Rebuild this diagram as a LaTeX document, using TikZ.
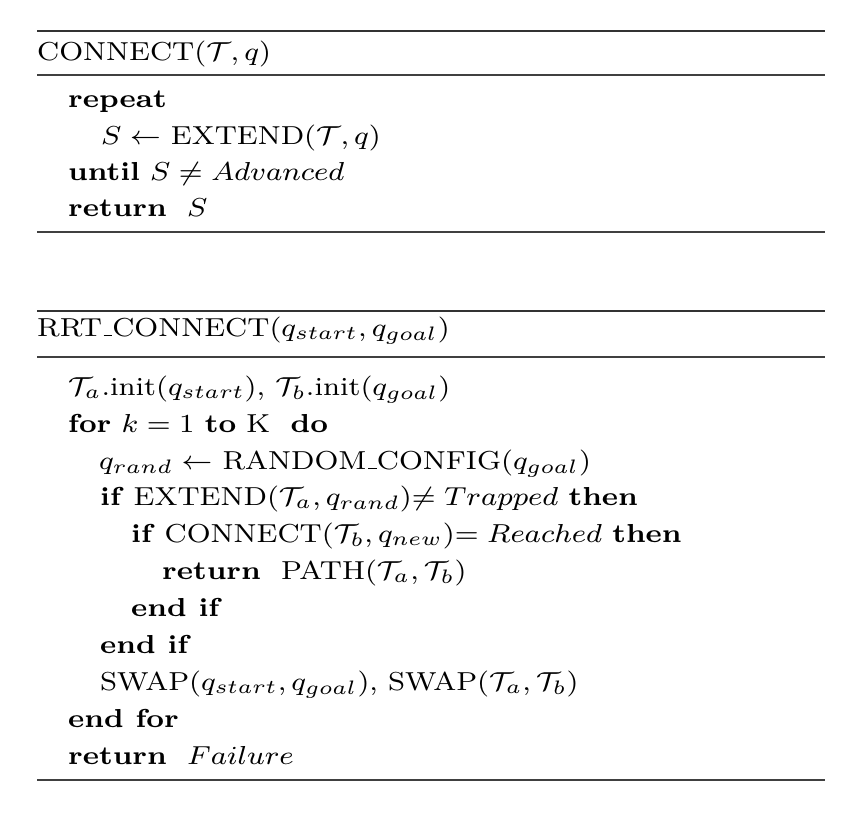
\documentclass[tikz,border=0pt]{standalone}
\usepackage{amsmath,amssymb}
\newcommand\algtext[1]{\scalebox{3.61}[3.25]{#1}}
\newcommand\uscr{\leavevmode\kern.06em\vbox{\hrule width.3em}}
\begin{document}
\begin{tikzpicture}[x=1pt,y=1pt,
  codeline/.style={anchor=base west, inner sep=0pt, font=\fontsize{8}{10}\selectfont},
  toprule/.style={line width=1.8pt, draw=black!80},
  midrule/.style={line width=1.1pt, draw=black!75}]
\useasboundingbox (0,0) rectangle (843,-812);
% box 1 rules
\draw[toprule] (37,-31) -- (825,-31);
\draw[midrule] (37,-75) -- (825,-75);
\draw[midrule] (37,-232) -- (825,-232);
% box 2 rules
\draw[toprule] (37,-311) -- (825,-311);
\draw[midrule] (37,-357) -- (825,-357);
\draw[midrule] (37,-780) -- (825,-780);
% box 1 text
\node[codeline] (t1) at (37,-60) {\algtext{CONNECT($\mathcal{T}, q$)}};
\node[codeline] (a1) at (68,-107) {\algtext{\textbf{repeat}}};
\node[codeline] (a2) at (101,-144) {\algtext{$S \leftarrow$ EXTEND($\mathcal{T}, q$)}};
\node[codeline] (a3) at (68,-180) {\algtext{\textbf{until} $S \neq Advanced$}};
\node[codeline] (a4) at (68,-216) {\algtext{\textbf{return}\ \ $S$}};
% box 2 text
\node[codeline] (t2) at (37,-336) {\algtext{RRT\uscr CONNECT($q_{start}, q_{goal}$)}};
\node[codeline] (b1) at (68,-395) {\algtext{$\mathcal{T}_a$.init($q_{start}$), $\mathcal{T}_b$.init($q_{goal}$)}};
\node[codeline] (b2) at (68,-432) {\algtext{\textbf{for} $k = 1$ \textbf{to} K\ \ \textbf{do}}};
\node[codeline] (b3) at (99,-469) {\algtext{$q_{rand} \leftarrow$ RANDOM\uscr CONFIG($q_{goal}$)}};
\node[codeline] (b4) at (100,-505) {\algtext{\textbf{if} EXTEND($\mathcal{T}_a, q_{rand}$)$\neq Trapped$ \textbf{then}}};
\node[codeline] (b5) at (131,-542) {\algtext{\textbf{if} CONNECT($\mathcal{T}_b, q_{new}$)$= Reached$ \textbf{then}}};
\node[codeline] (b6) at (162,-579) {\algtext{\textbf{return}\ \ PATH($\mathcal{T}_a, \mathcal{T}_b$)}};
\node[codeline] (b7) at (131,-616) {\algtext{\textbf{end if}}};
\node[codeline] (b8) at (100,-653) {\algtext{\textbf{end if}}};
\node[codeline] (b9) at (100,-690) {\algtext{SWAP($q_{start}, q_{goal}$), SWAP($\mathcal{T}_a, \mathcal{T}_b$)}};
\node[codeline] (b10) at (68,-727) {\algtext{\textbf{end for}}};
\node[codeline] (b11) at (68,-764) {\algtext{\textbf{return}\ \ $Failure$}};
\end{tikzpicture}
\end{document}
